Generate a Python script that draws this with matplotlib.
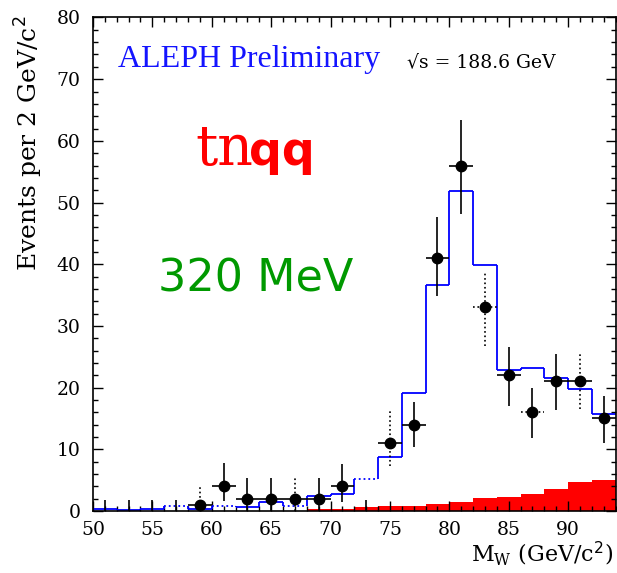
import matplotlib
matplotlib.use("Agg")
import matplotlib.pyplot as plt
import numpy as np

# bin edges, 2 GeV wide
edges = np.arange(50, 96, 2)

# blue histogram (MC expectation)
mc = [0.35, 0.1, 0.35, 0.8, 0.4, 0.8, 0.7, 1.5, 0.8, 2.5, 2.8, 5.2,
      8.7, 19.1, 36.7, 51.8, 39.8, 22.8, 23.1, 21.6, 19.8, 15.7]
# bins drawn with a dotted top in the original
mc_dotted = [3, 5, 8, 11]

# red filled histogram (tau nu q q background)
bkg = [0, 0, 0, 0, 0, 0, 0, 0, 0, 0.3, 0.3, 0.7,
       0.75, 0.85, 1.1, 1.5, 2.05, 2.3, 2.8, 3.6, 4.7, 4.95]

# data points
centers = np.arange(51, 95, 2)
counts = [0, 0, 0, 0, 1, 4, 2, 2, 2, 2, 4, 0,
          11, 14, 41, 56, 33, 22, 16, 21, 21, 15]
err_lo = [0, 0, 0, 0, 1, 2.3, 2, 2, 2, 2, 2.5, 0,
          3.7, 3.7, 6.2, 7.8, 6.2, 4.9, 4.1, 4.6, 4.4, 3.9]
err_hi = [1.85, 1.85, 1.85, 1.85, 3.0, 3.8, 3.3, 3.3, 3.3, 3.3, 3.6, 1.85,
          5.5, 3.7, 6.6, 7.4, 5.7, 4.6, 4.0, 4.5, 4.5, 3.7]
v_dotted = [59, 67, 75, 83, 91]
h_dotted = [83, 87]

serif = ['DejaVu Serif']

fig = plt.figure(figsize=(6.17, 5.73), dpi=100)
ax = fig.add_axes([0.1507, 0.1082, 0.847, 0.8613])

# red background
ax.stairs(bkg, edges, fill=True, color='#ff0000', lw=0)

# blue MC histogram, bin by bin so some tops can be dotted
for i in range(len(mc)):
    ls = ':' if i in mc_dotted else '-'
    ax.hlines(mc[i], edges[i], edges[i + 1], colors='#0000ff', linestyles=ls, lw=1.3)
for i in range(1, len(mc)):
    ax.vlines(edges[i], mc[i - 1], mc[i], colors='#0000ff', lw=1.3)

# data error bars
counts = np.array(counts, dtype=float)
lo = counts - np.array(err_lo)
hi = counts + np.array(err_hi)
vls = [':' if c in v_dotted else '-' for c in centers]
ax.vlines(centers, lo, hi, colors='black', linestyles=vls, lw=1.2)
nz = counts > 0
hls = [':' if c in h_dotted else '-' for c in centers[nz]]
ax.hlines(counts[nz], centers[nz] - 1, centers[nz] + 1, colors='black',
          linestyles=hls, lw=1.2)
ax.plot(centers[nz], counts[nz], 'o', color='black', ms=7.5)

ax.set_xlim(50, 94)
ax.set_ylim(0, 80)
ax.set_xticks(np.arange(50, 95, 5))
ax.set_xticks(np.arange(50, 95, 1), minor=True)
ax.set_yticks(np.arange(0, 81, 10))
ax.set_yticks(np.arange(0, 81, 2), minor=True)
ax.tick_params(which='both', direction='in', top=True, right=True, width=1)
ax.tick_params(which='major', length=7)
ax.tick_params(which='minor', length=3.5)
ax.tick_params(axis='x', which='major', pad=7)
ax.tick_params(axis='y', which='major', pad=9)
for lab in ax.get_xticklabels() + ax.get_yticklabels():
    lab.set_family(serif)
    lab.set_fontsize(13.5)
for s in ax.spines.values():
    s.set_linewidth(1.2)

ax.set_ylabel('Events per 2 GeV/c$^2$', family=serif, fontsize=18, loc='top')
ax.yaxis.set_label_coords(-0.092, 1.005)
ax.set_xlabel('M$_\\mathregular{W}$ (GeV/c$^2$)', family=serif, fontsize=16, loc='right')
ax.xaxis.set_label_coords(0.995, -0.058)

ax.text(0.048, 0.90, 'ALEPH Preliminary', transform=ax.transAxes, color='#1414ff',
        family=['Liberation Serif', 'DejaVu Serif'], fontsize=23, va='baseline')
ax.text(0.601, 0.90, '\u221as = 188.6 GeV', transform=ax.transAxes, color='black',
        family=serif, fontsize=13.5, va='baseline')
ax.text(0.195, 0.701, 'tn', transform=ax.transAxes, color='#ff0000',
        family=serif, fontsize=40, va='baseline')
ax.text(0.298, 0.701, 'qq', transform=ax.transAxes, color='#ff0000',
        family=['DejaVu Sans'], fontweight='bold', fontsize=33, va='baseline')
ax.text(0.124, 0.444, '320 MeV', transform=ax.transAxes, color='#009900',
        family=['DejaVu Sans'], fontsize=32, va='baseline')

fig.savefig('out.png', dpi=100)
